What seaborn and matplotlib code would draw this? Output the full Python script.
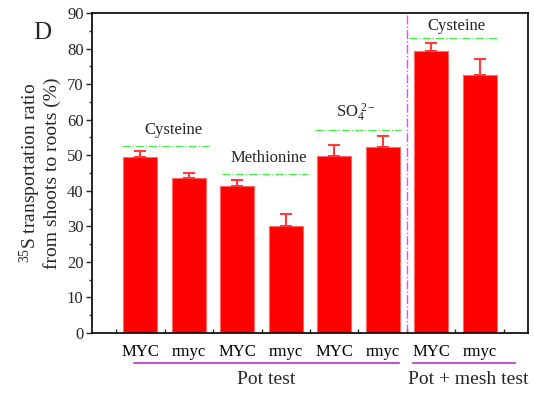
import matplotlib
matplotlib.use("Agg")
import matplotlib.pyplot as plt
import matplotlib.transforms as mtransforms
from matplotlib.ticker import MultipleLocator
import seaborn as sns
import pandas as pd

# ---- data ----
positions = [1, 2, 3, 4, 5, 6, 7, 8]
tick_labels = ["MYC", "rmyc", "MYC", "rmyc", "MYC", "rmyc", "MYC", "rmyc"]
values = [49.6, 43.5, 41.3, 30.1, 49.8, 52.4, 79.4, 72.6]
errors = [1.7, 1.4, 1.7, 3.4, 3.2, 3.0, 2.2, 4.5]
treat_labels = ["Cysteine", "Methionine", r"SO$_{\mathrm{4}}^{\mathrm{\ 2-}}$", "Cysteine"]
treat_line_y = [52.6, 44.6, 57.2, 82.9]
treat_line_x0 = [0.63, 2.68, 4.6, 6.55]
treat_line_x1 = [2.42, 4.46, 6.37, 8.36]
treat_text_x = [1.68, 3.64, 5.45, 7.52]
treat_text_y = [57.0, 49.2, 62.0, 86.4]
group_labels = ["Pot test", "Pot + mesh test"]
group_x0 = [0.87, 6.63]
group_x1 = [6.33, 8.72]
group_text_x = [3.6, 7.77]
divider_x = 6.5

sns.set_theme(style="white")
plt.rcParams["font.family"] = ["Liberation Serif", "DejaVu Serif"]
plt.rcParams["mathtext.fontset"] = "custom"
plt.rcParams["mathtext.rm"] = "Liberation Serif"
plt.rcParams["mathtext.it"] = "Liberation Serif:italic"
plt.rcParams["mathtext.bf"] = "Liberation Serif:bold"

df = pd.DataFrame({"pos": positions, "val": values})

fig = plt.figure(figsize=(5.34, 3.94), dpi=100)
ax = fig.add_axes([0.172, 0.155, 0.817, 0.812])

sns.barplot(data=df, x="pos", y="val", native_scale=True, width=0.7,
            color="#ff0000", saturation=1, edgecolor="#ff6a6a", linewidth=0.8,
            errorbar=None, ax=ax)
ax.errorbar(positions, values, yerr=[[0] * len(errors), errors], fmt="none",
            ecolor="#ff3b3b", elinewidth=1.5, capsize=4, capthick=1.5, zorder=3)

ax.set_xlim(0, 9)
ax.set_ylim(0, 90)
ax.set_xticks(positions)
ax.set_xticklabels(tick_labels, fontsize=12)
ax.set_xticks([p - 0.5 for p in positions] + [8.5], minor=True)
ax.yaxis.set_major_locator(MultipleLocator(10))
ax.yaxis.set_minor_locator(MultipleLocator(5))
ax.tick_params(axis="x", which="major", direction="in", length=5, width=1, pad=8, colors="black")
ax.tick_params(axis="x", which="minor", direction="in", length=3, width=1, bottom=True)
ax.tick_params(axis="y", which="major", direction="out", length=4, width=1, pad=2, labelsize=12, left=True)
ax.tick_params(axis="y", which="minor", direction="out", length=2.5, width=1, left=True)
for s in ax.spines.values():
    s.set_color("black")
    s.set_linewidth(1.2)
ax.set_xlabel("")
ax.set_ylabel("$^{35}$S transportation ratio\nfrom shoots to roots (%)", fontsize=14,
              linespacing=1.05, labelpad=4)

# treatment dash-dot lines and labels
for lab, ly, x0, x1, tx, ty in zip(treat_labels, treat_line_y, treat_line_x0,
                                   treat_line_x1, treat_text_x, treat_text_y):
    ax.plot([x0, x1], [ly, ly], color="#44ee44", linestyle="-.", linewidth=0.9)
    ax.text(tx, ty, lab, ha="center", va="center", fontsize=12)

ax.axvline(divider_x, color="#ff3cff", linestyle="-.", linewidth=1.0)

# group lines below axis
trans = mtransforms.blended_transform_factory(ax.transData, ax.transAxes)
for lab, x0, x1, tx in zip(group_labels, group_x0, group_x1, group_text_x):
    ax.plot([x0, x1], [-0.094, -0.094], color="#b45ad2", linewidth=1.5,
            transform=trans, clip_on=False)
    ax.text(tx, -0.145, lab, ha="center", va="center", fontsize=14, transform=trans)

fig.text(0.079, 0.915, "D", fontsize=18, ha="center", va="center")

fig.savefig("out.png", dpi=100)
